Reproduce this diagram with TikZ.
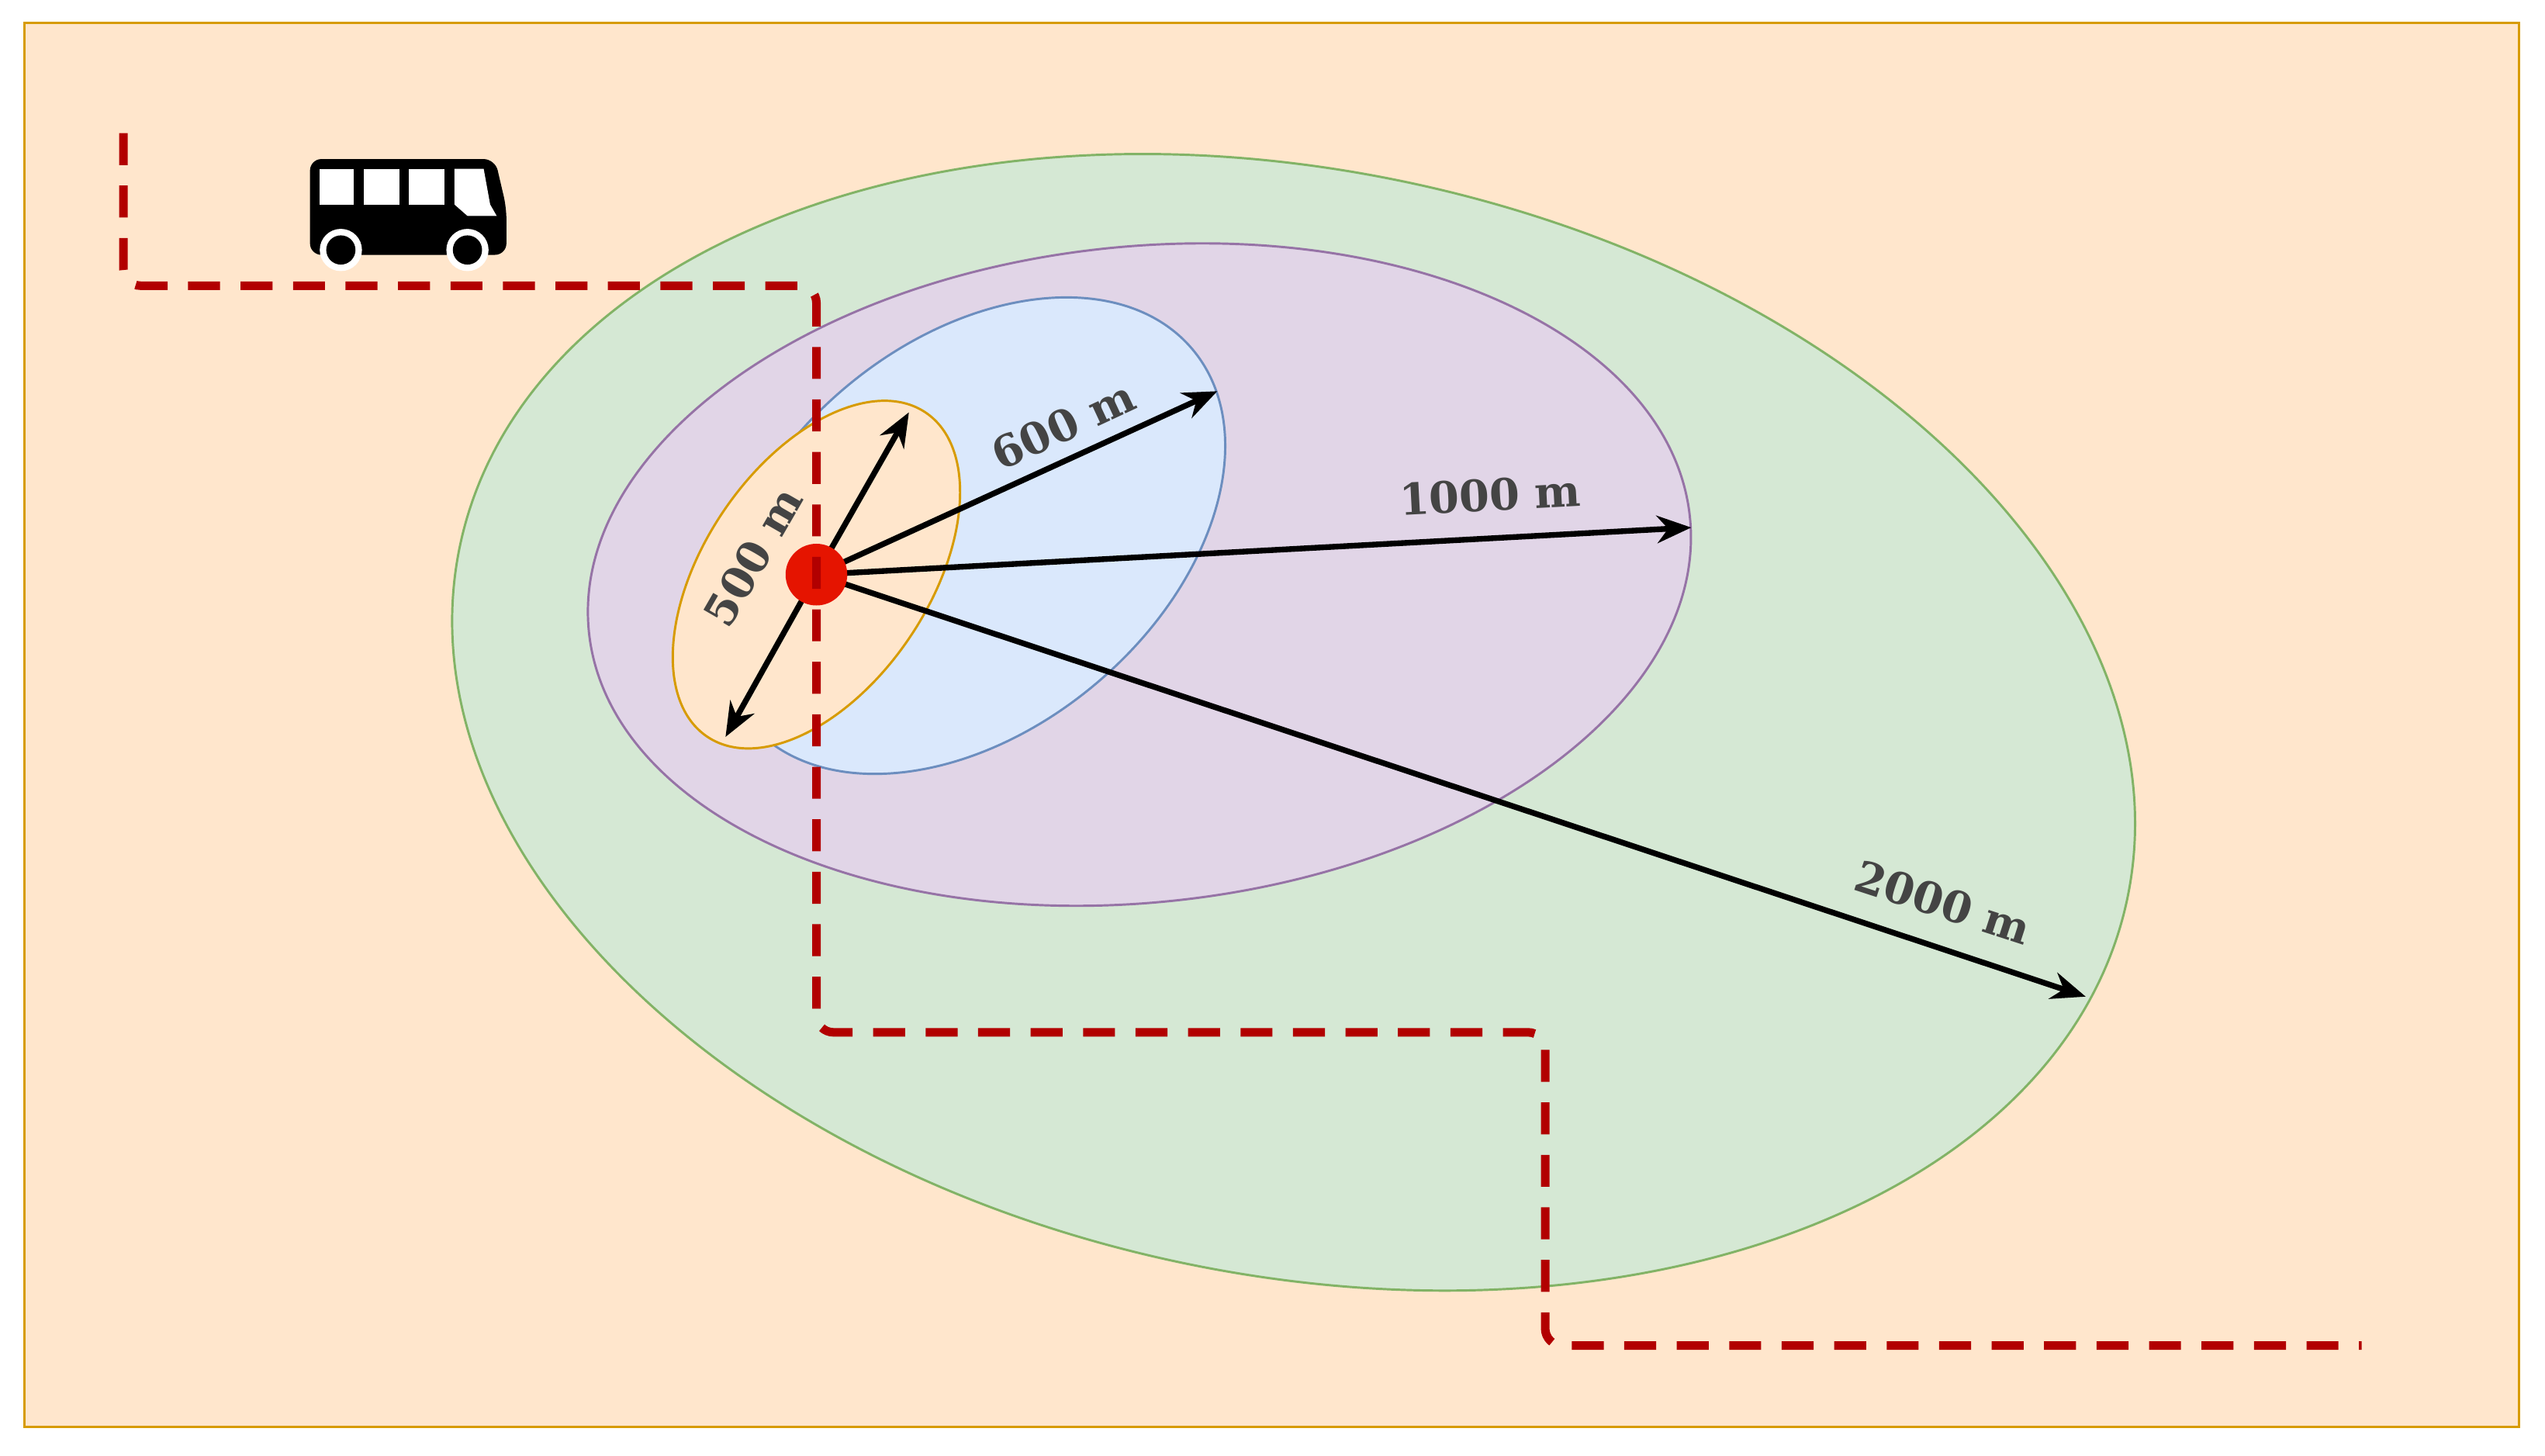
\documentclass[tikz,border=0pt]{standalone}
\usepackage{fontspec}
\newfontfamily\lab{DejaVu Serif}
\usetikzlibrary{arrows.meta}
\definecolor{bgfill}{HTML}{FFE6CC}
\definecolor{bgline}{HTML}{D79B00}
\definecolor{gfill}{HTML}{D5E8D4}
\definecolor{gline}{HTML}{82B366}
\definecolor{pfill}{HTML}{E1D5E7}
\definecolor{pline}{HTML}{9673A6}
\definecolor{bfill}{HTML}{DAE8FC}
\definecolor{bline}{HTML}{6C8EBF}
\definecolor{dotred}{HTML}{E51400}
\definecolor{pathred}{HTML}{B20000}
\definecolor{txt}{HTML}{444444}
\begin{document}
\begin{tikzpicture}[x=0.05cm,y=-0.05cm,
  zone/.style={line width=2pt},
  radius arrow/.style={line width=5pt,-{Stealth[length=30pt,width=24pt]}},
  lbl/.style={font=\lab\bfseries\fontsize{38}{44}\selectfont,text=txt,inner sep=0pt},
  route/.style={pathred,line width=7.5pt,dash pattern=on 28pt off 18pt,rounded corners=15pt}]
\useasboundingbox (0,0) rectangle (1568,897);
\draw[fill=bgfill,draw=bgline,line width=2pt] (15,14) rectangle (1552,879);
\draw[zone,fill=gfill,draw=gline] (797,445) ellipse[x radius=525,y radius=340,rotate=-12];
\draw[zone,fill=pfill,draw=pline] (702,354) ellipse[x radius=341,y radius=202,rotate=6];
\draw[zone,fill=bfill,draw=bline] (598,330) ellipse[x radius=178.5,y radius=119.5,rotate=40];
\draw[zone,fill=bgfill,draw=bgline] (503,354) ellipse[x radius=120.4,y radius=69.3,rotate=56];
\coordinate (o) at (503,354);
\coordinate (e1) at (560,254);
\coordinate (e2) at (447,454);
\coordinate (e3) at (750,241);
\coordinate (e4) at (1042,325);
\coordinate (e5) at (1285,614);
\draw[radius arrow] (o) -- (e1);
\draw[radius arrow] (o) -- (e2);
\draw[radius arrow] (o) -- (e3);
\draw[radius arrow] (o) -- (e4);
\draw[radius arrow] (o) -- (e5);
\node[circle,fill=dotred,minimum size=38*0.05cm,inner sep=0pt] (c) at (o) {};
\node[lbl,rotate=60] (l1) at (464,343) {500 m};
\node[lbl,rotate=25] (l2) at (655,262) {600 m};
\node[lbl,rotate=3] (l3) at (918,305) {1000 m};
\node[lbl,rotate=-18] (l4) at (1197,556) {2000 m};
\draw[route] (76,82) -- (76,176) -- (503,176) -- (503,636) -- (952,636) -- (952,829) -- (1455,829);
% bus
\fill[black,rounded corners=10pt] (191,157) -- (191,98) -- (305,98) -- (312,128) -- (312,157) -- cycle;
\fill[white] (197,104) rectangle (218,126);
\fill[white] (224,104) rectangle (246,126);
\fill[white] (252,104) rectangle (274,126);
\fill[white] (280,104) -- (298,104) -- (302,126) -- (306,133) -- (288,133) -- (280,126) -- cycle;
\fill[white] (210,154) circle[radius=13];
\fill[black] (210,154) circle[radius=9];
\fill[white] (288,154) circle[radius=13];
\fill[black] (288,154) circle[radius=9];
\end{tikzpicture}
\end{document}
